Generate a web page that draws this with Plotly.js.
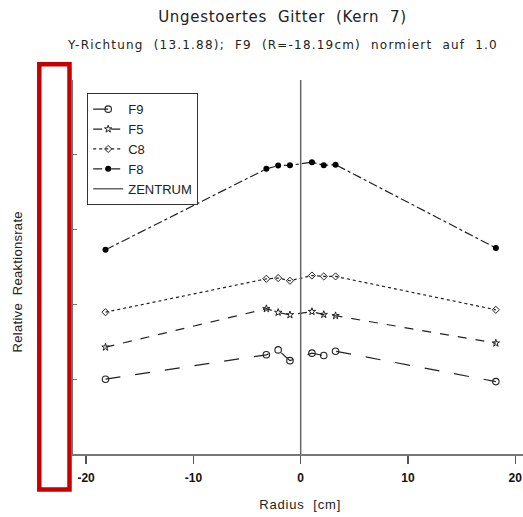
<!DOCTYPE html>
<html>
<head>
<meta charset="utf-8">
<script src="https://cdn.plot.ly/plotly-3.0.1.min.js"></script>
<style>html,body{margin:0;padding:0;background:#fff;}#chart{width:523px;height:517px;}</style>
</head>
<body>
<div id="chart"></div>
<script>
// Radius positions [cm]
const radius = [-18.19, -3.2, -2.1, -1.0, 1.05, 2.15, 3.25, 18.19];
// Relative reaction rates (normalized: F9 at R=-18.19 = 1.0)
const f9 = [1.0, 1.163, 1.196, 1.124, 1.174, 1.158, 1.187, 0.984];
const f5 = [1.214, 1.471, 1.446, 1.430, 1.452, 1.432, 1.424, 1.241];
const c8 = [1.448, 1.671, 1.676, 1.658, 1.693, 1.687, 1.687, 1.464];
const f8 = [1.865, 2.406, 2.428, 2.430, 2.450, 2.430, 2.434, 1.877];
// Centre line
const zentrumX = [0, 0];
const zentrumY = [0.5, 3.0];
const seriesNames = ["F9", "F5", "C8", "F8", "ZENTRUM"];

const W = 523, H = 517, L = 73, R = 0, T = 80, B = 63;
const pw = W - L - R, ph = H - T - B;
const px = x => (x - L) / pw;
const py = y => (H - B - y) / ph;
const S = "\u00A0\u00A0";
const font = "Liberation Sans, Arial, sans-serif";
const ink = "#222";

const traces = [
  {x: radius, y: f9, name: seriesNames[0], mode: "lines+markers",
   line: {color: ink, width: 1.2, dash: "longdash"},
   marker: {symbol: "circle-open", size: 6.5, color: ink, line: {width: 1.1}}},
  {x: radius, y: f5, name: seriesNames[1], mode: "lines+markers",
   line: {color: ink, width: 1.2, dash: "dash"},
   marker: {symbol: "star-open", size: 5.5, color: ink, line: {width: 1}}},
  {x: radius, y: c8, name: seriesNames[2], mode: "lines+markers",
   line: {color: ink, width: 1.2, dash: "dot"},
   marker: {symbol: "diamond-open", size: 5.5, color: ink, line: {width: 1}}},
  {x: radius, y: f8, name: seriesNames[3], mode: "lines+markers",
   line: {color: ink, width: 1.2, dash: "dashdot"},
   marker: {symbol: "circle", size: 6, color: "#000"}},
  {x: zentrumX, y: zentrumY, name: seriesNames[4], mode: "lines",
   line: {color: "#666", width: 1.5}}
];

const layout = {
  width: W, height: H,
  margin: {l: L, r: R, t: T, b: B, pad: 0},
  paper_bgcolor: "#fff", plot_bgcolor: "#fff",
  font: {family: font, color: ink, size: 12},
  showlegend: true,
  legend: {x: px(87), y: py(93), xanchor: "left", yanchor: "top",
    bgcolor: "#fff", bordercolor: "#333", borderwidth: 1.2,
    font: {family: font, size: 13, color: ink}, tracegroupgap: 0, itemwidth: 30},
  xaxis: {range: [-21.22, 20.72], tickvals: [-20, -10, 0, 10, 20],
    ticktext: ["-20", "-10", "0", "10", "20"],
    ticks: "outside", ticklen: 8, tickwidth: 1.3, tickcolor: "#555",
    ticklabelstandoff: 4,
    showline: true, linecolor: "#777", linewidth: 1.5,
    showgrid: false, zeroline: false,
    tickfont: {family: font, size: 12, color: "#111", weight: "bold"}},
  yaxis: {range: [0.5, 3.0], tickvals: [0.5, 1.0, 1.5, 2.0, 2.5, 3.0],
    showticklabels: false, ticks: "inside", ticklen: 4, tickcolor: "#777",
    showline: true, linecolor: "#777", linewidth: 1.5,
    showgrid: false, zeroline: false},
  annotations: [
    {text: "Ungestoertes" + S + "Gitter" + S + "(Kern" + S + "7)",
     xref: "paper", yref: "paper", x: px(282), y: py(17), showarrow: false,
     xanchor: "center", yanchor: "middle", font: {family: "DejaVu Sans, sans-serif", size: 15, color: ink}},
    {text: "Y-Richtung" + S + "(13.1.88);" + S + "F9" + S + "(R=-18.19cm)" + S + "normiert" + S + "auf" + S + "1.0",
     xref: "paper", yref: "paper", x: px(282.5), y: py(45), showarrow: false,
     xanchor: "center", yanchor: "middle", font: {family: "DejaVu Sans, sans-serif", size: 12, color: ink}},
    {text: "Radius" + S + "[cm]",
     xref: "paper", yref: "paper", x: px(300), y: py(505), showarrow: false,
     xanchor: "center", yanchor: "middle", font: {family: font, size: 13, color: ink}},
    {text: "Relative" + S + "Reaktionsrate",
     xref: "paper", yref: "paper", x: px(17), y: py(282), showarrow: false, textangle: -90,
     xanchor: "center", yanchor: "middle", font: {family: font, size: 13, color: ink}}
  ],
  shapes: [
    {type: "rect", xref: "paper", yref: "paper",
     x0: px(39.3), x1: px(69.5), y0: py(489.5), y1: py(64.3),
     line: {color: "#C60000", width: 4.5}, fillcolor: "rgba(0,0,0,0)"}
  ]
};

Plotly.newPlot("chart", traces, layout, {displayModeBar: false, staticPlot: true}).then(function () {
  const spacing = [0.7, 1.2, 0.8, 0.3];
  document.querySelectorAll(".annotation-text").forEach(function (el, i) {
    if (spacing[i] !== undefined) el.style.letterSpacing = spacing[i] + "px";
  });
});
</script>
</body>
</html>
